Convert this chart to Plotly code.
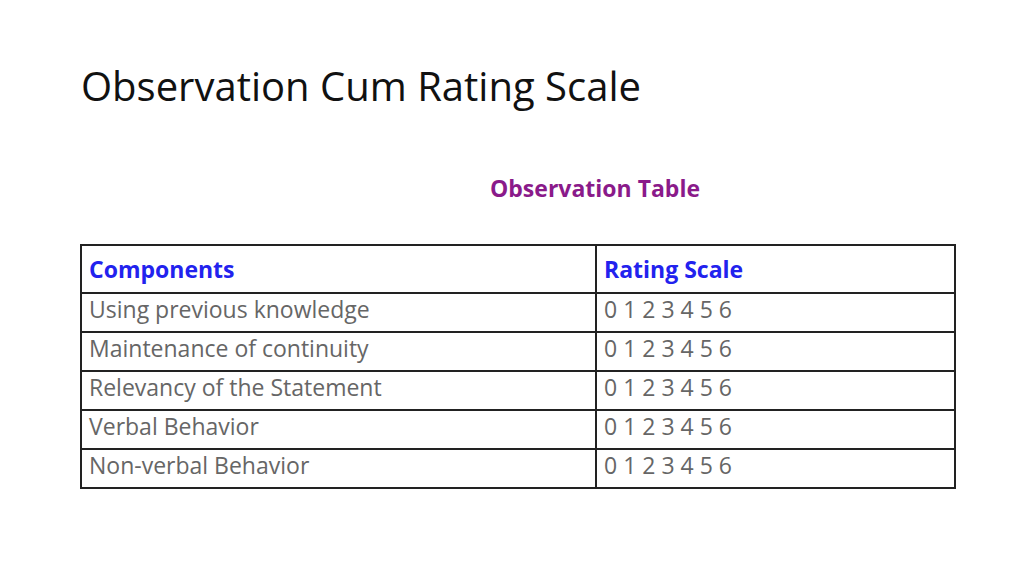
import plotly.graph_objects as go

components = ["Using previous knowledge", "Maintenance of continuity",
              "Relevancy of the Statement", "Verbal Behavior", "Non-verbal Behavior"]
ratings = ["0 1 2 3 4 5 6"] * 5
headers = ["<b>Components</b>", "<b>Rating Scale</b>"]

W, H = 1024, 576
OFF = 8  # page body margin
fig = go.Figure(go.Table(
    domain=dict(x=[(81 - OFF) / W, (955 - OFF) / W], y=[1 - (500 - OFF) / H, 1 - (245 - OFF) / H]),
    columnwidth=[515, 359],
    header=dict(values=headers, align="left", height=39,
                font=dict(family="Open Sans", size=23, color="#2222ee"),
                line=dict(color="#222", width=1.5), fill_color="white"),
    cells=dict(values=[components, ratings], align="left", height=39,
               font=dict(family="Open Sans", size=23, color="#666"),
               line=dict(color="#222", width=1.5), fill_color="white"),
))

fig.add_annotation(text="Observation Cum Rating Scale", x=(79 - OFF) / W, y=1 - (85 - OFF) / H,
                   xref="paper", yref="paper", xanchor="left", yanchor="middle",
                   showarrow=False, font=dict(family="Open Sans", size=40, color="#111"))
fig.add_annotation(text="<b>Observation Table</b>", x=(595 - OFF) / W, y=1 - (188 - OFF) / H,
                   xref="paper", yref="paper", xanchor="center", yanchor="middle",
                   showarrow=False, font=dict(family="Open Sans", size=23, color="#8a1a8a"))

fig.update_layout(width=W, height=H, margin=dict(l=0, r=0, t=0, b=0),
                  paper_bgcolor="white", plot_bgcolor="white")
fig.write_html("out.html")
